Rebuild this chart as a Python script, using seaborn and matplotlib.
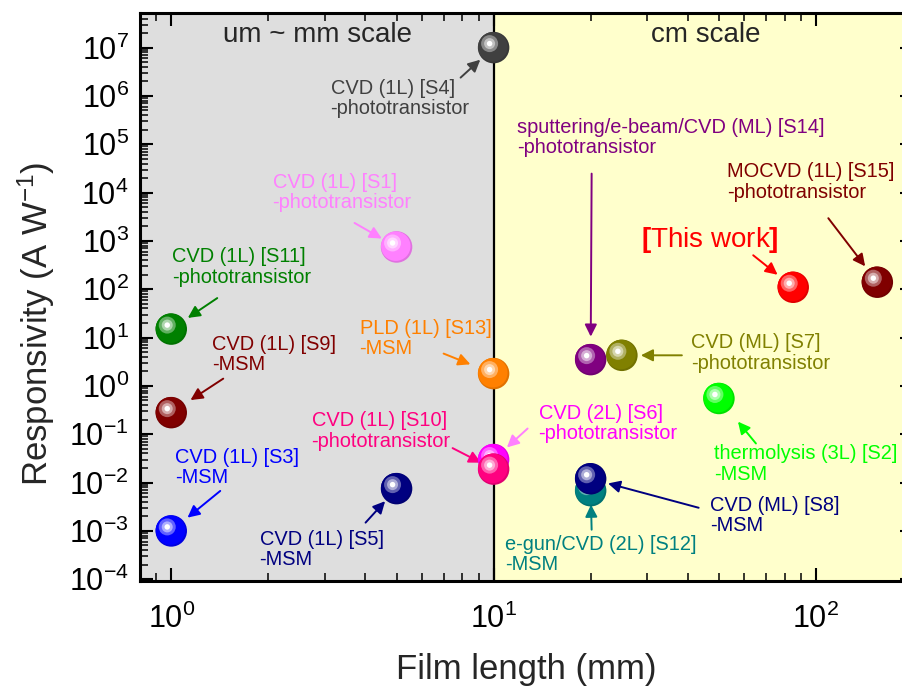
"""
Responsivity vs film length, log-log scatter with sphere-like markers
"""
import matplotlib.colors as mcolors
import matplotlib.pyplot as plt
import numpy as np
import pandas as pd
import seaborn as sns
from matplotlib.ticker import LogLocator, NullFormatter
from matplotlib.transforms import ScaledTranslation

# ---- data ------------------------------------------------------------------
KEYS = ["S4", "S1", "S11", "S9", "S3", "S13", "S5", "S6", "S10",
        "S14", "S7", "This work", "S15", "S2", "S12", "S8"]
FILM_LENGTH_MM = [10, 5, 1, 1, 1, 10, 5, 10, 10,
                  20, 25, 85, 155, 50, 20, 20]
RESPONSIVITY = [1e7, 750, 15, 0.28, 1e-3, 1.8, 7.5e-3, 0.03, 0.019,
                3.5, 4.3, 110, 140, 0.55, 6.8e-3, 0.012]
LABELS = [
    "CVD (1L) [S4]\n-phototransistor",
    "CVD (1L) [S1]\n-phototransistor",
    "CVD (1L) [S11]\n-phototransistor",
    "CVD (1L) [S9]\n-MSM",
    "CVD (1L) [S3]\n-MSM",
    "PLD (1L) [S13]\n-MSM",
    "CVD (1L) [S5]\n-MSM",
    "CVD (2L) [S6]\n-phototransistor",
    "CVD (1L) [S10]\n-phototransistor",
    "sputtering/e-beam/CVD (ML) [S14]\n-phototransistor",
    "CVD (ML) [S7]\n-phototransistor",
    r"$\mathbf{[}$This work$\mathbf{]}$",
    "MOCVD (1L) [S15]\n-phototransistor",
    "thermolysis (3L) [S2]\n-MSM",
    "e-gun/CVD (2L) [S12]\n-MSM",
    "CVD (ML) [S8]\n-MSM",
]
COLORS = ["#404040", "#FF80FF", "#008000", "#800000", "#0000FF", "#FF8000",
          "#000080", "#FF00FF", "#FF0080", "#800080", "#808000", "#FF0000",
          "#800000", "#00FF00", "#008080", "#000080"]

# ---- layout (pixels relative to each marker, y pointing down) ----------------
# key: (text dx, text dy, arrow tail dx, arrow tail dy, gap to marker)
LAYOUT = {
    "S4": (-163, 31, -33, 30, 18),
    "S1": (-124, -74, -42, -24, 17),
    "S11": (1, -82, 46, -31, 20),
    "S9": (41, -78, 52, -34, 23),
    "S3": (4, -83, 49, -40, 21),
    "S13": (-134, -55, -50, -20, 25),
    "S5": (-137, 41, -31, 34, 17),
    "S6": (45, -56, 34, -31, 18),
    "S10": (-182, -58, -41, -21, 14),
    "S14": (-74, -242, 1, -186, 23),
    "S7": (69, -22, 60, 0, 19),
    "This work": (-152, -47, -40, -32, 20),
    "S15": (-150, -120, -49, -64, 20),
    "S2": (-5, 46, 37, 45, 30),
    "S12": (-86, 44, 1, 39, 14),
    "S8": (119, 17, 108, 29, 18),
}
ARROW_COLORS = {"S6": "#FF80FF"}

# sphere layers: (diameter px, dx px, dy px, white mix, black mix)
SPHERE_LAYERS = [
    (31.5, 0, 0, 0.0, 0.12),
    (29.5, -0.8, -0.8, 0.0, 0.0),
    (17, -4, -4, 0.38, 0.0),
    (11, -4, -4, 0.68, 0.0),
    (5.5, -4, -4, 1.0, 0.0),
]

DPI = 100
PT = 72 / DPI
GRAY_BG = "#DEDEDE"
YELLOW_BG = "#FFFFCC"


def shade(color, white, black):
    """mix a color with white and black"""
    rgb = np.array(mcolors.to_rgb(color))
    rgb = rgb + (1 - rgb) * white
    return tuple(rgb * (1 - black))


def draw_spheres(fig, ax, df):
    """draws each point as a layered pseudo 3D ball"""
    for i, row in df.iterrows():
        for j, (diam, dx, dy, white, black) in enumerate(SPHERE_LAYERS):
            offset = ax.transData + ScaledTranslation(
                dx / DPI, -dy / DPI, fig.dpi_scale_trans)
            sns.scatterplot(x=[row.length], y=[row.resp], ax=ax,
                            color=shade(row.color, white, black),
                            s=(diam * PT) ** 2, linewidth=0, edgecolor="none",
                            transform=offset, zorder=5 + i * 0.1 + j * 0.01,
                            legend=False)


def draw_annotations(ax, df):
    """labels and arrows next to each point"""
    for _, row in df.iterrows():
        tdx, tdy, adx, ady, gap = LAYOUT[row.key]
        big = row.key == "This work"
        ax.annotate(row.label, xy=(row.length, row.resp),
                    xytext=(tdx * PT, -tdy * PT), textcoords="offset points",
                    ha="left", va="center" if big else "top",
                    fontsize=20 if big else 14.4, color=row.color,
                    linespacing=1.1, zorder=20)
        ax.annotate("", xy=(row.length, row.resp),
                    xytext=(adx * PT, -ady * PT), textcoords="offset points",
                    arrowprops=dict(arrowstyle="-|>", lw=1.4,
                                    color=ARROW_COLORS.get(row.key, row.color),
                                    shrinkA=0, shrinkB=gap * PT,
                                    mutation_scale=18),
                    zorder=4)


def main():
    sns.set_style("ticks")
    plt.rcParams["font.family"] = ["Liberation Sans", "DejaVu Sans"]
    plt.rcParams["mathtext.fontset"] = "custom"
    plt.rcParams["mathtext.rm"] = "Liberation Sans"
    plt.rcParams["mathtext.bf"] = "Liberation Sans:bold"
    plt.rcParams["mathtext.it"] = "Liberation Sans:italic"
    plt.rcParams["mathtext.default"] = "regular"

    df = pd.DataFrame({"key": KEYS, "length": FILM_LENGTH_MM,
                       "resp": RESPONSIVITY, "label": LABELS,
                       "color": COLORS})

    fig = plt.figure(figsize=(9.03, 6.9), dpi=DPI)
    ax = fig.add_axes([140 / 903, 1 - 581 / 690, 773 / 903, 568 / 690])
    ax.set_xscale("log")
    ax.set_yscale("log")
    ax.set_xlim(0.8, 200)
    ax.set_ylim(9.2e-5, 5.2e7)

    ax.axvspan(0.8, 10, color=GRAY_BG, zorder=0, lw=0)
    ax.axvspan(10, 200, color=YELLOW_BG, zorder=0, lw=0)
    ax.axvline(10, color="black", lw=1.6, zorder=1)

    draw_spheres(fig, ax, df)
    draw_annotations(ax, df)

    fig.text(318 / 903, 1 - 35 / 690, "um ~ mm scale", fontsize=20,
             ha="center", va="center")
    fig.text(706 / 903, 1 - 35 / 690, "cm scale", fontsize=20,
             ha="center", va="center")

    ax.yaxis.set_major_locator(LogLocator(base=10, numticks=30))
    ax.yaxis.set_minor_locator(LogLocator(base=10, subs=np.arange(2, 10),
                                          numticks=30))
    ax.xaxis.set_minor_locator(LogLocator(base=10, subs=np.arange(2, 10),
                                          numticks=30))
    ax.xaxis.set_minor_formatter(NullFormatter())
    ax.yaxis.set_minor_formatter(NullFormatter())
    ax.tick_params(which="both", direction="in", top=True, right=True,
                   colors="black", labelsize=22)
    ax.tick_params(which="major", length=9.5, width=1.5)
    ax.tick_params(which="minor", length=5.5, width=1.1)
    ax.tick_params(axis="x", pad=16)
    ax.tick_params(axis="y", pad=8)
    for spine in ax.spines.values():
        spine.set_linewidth(2.2)
        spine.set_color("black")
        spine.set_zorder(30)

    ax.set_xlabel("Film length (mm)", fontsize=25)
    ax.set_ylabel("Responsivity (A W$^{-1}$)", fontsize=25)
    ax.xaxis.set_label_coords(0.5, -0.127)
    ax.yaxis.set_label_coords(-0.108, 0.452)

    fig.savefig("out.png", dpi=DPI)


if __name__ == "__main__":
    main()
